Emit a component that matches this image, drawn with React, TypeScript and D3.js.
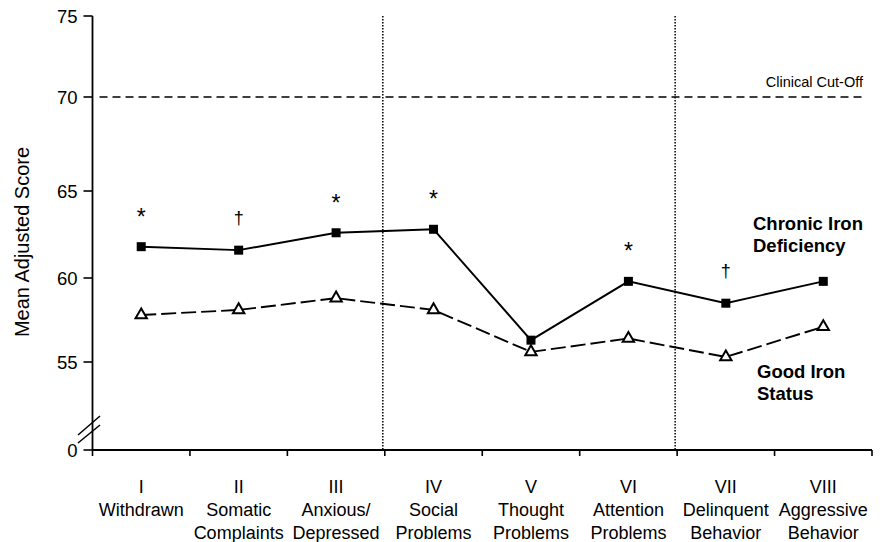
import React from "react";
import * as d3 from "d3";

const romans = ["I", "II", "III", "IV", "V", "VI", "VII", "VIII"];
const labelLine1 = ["Withdrawn", "Somatic", "Anxious/", "Social", "Thought", "Attention", "Delinquent", "Aggressive"];
const labelLine2 = ["", "Complaints", "Depressed", "Problems", "Problems", "Problems", "Behavior", "Behavior"];
const chronicIron = [61.8, 61.6, 62.6, 62.8, 56.3, 59.8, 58.5, 59.8];
const goodIron = [57.8, 58.1, 58.8, 58.1, 55.6, 56.4, 55.3, 57.1];
const significance = ["*", "\u2020", "*", "*", "", "*", "\u2020", ""];
const yTicks = [55, 60, 65, 70, 75];
const clinicalCutOff = 70;
const dividerBefore = ["IV", "VII"];

const W = 883;
const H = 542;
const FONT = "'Liberation Sans', Arial, Helvetica, sans-serif";

export default function App() {
  const axisX = 92.5;
  const axisBottom = 450;
  const x = d3.scaleBand<string>().domain(romans).range([axisX, 872]);
  const cx = (i: number) => (x(romans[i]) as number) + x.bandwidth() / 2;
  // scanned axis spacing is slightly uneven; polylinear scale follows the printed ticks
  const y = d3.scaleLinear().domain([55, 60, 65, 70, 75]).range([362, 278, 191, 97, 16]);

  const line = d3
    .line<number>()
    .x((_, i) => cx(i))
    .y((d) => y(d));

  const tickEdges = [...romans.map((r) => x(r) as number), 872];

  const tri = d3.symbol().type(d3.symbolTriangle).size(56)() as string;

  return (
    <div style={{ position: "absolute", left: 0, top: 0 }}>
      <svg width={W} height={H} style={{ display: "block", background: "#fff" }} fontFamily={FONT}>
        {/* y axis */}
        <line x1={axisX} x2={axisX} y1={y(75)} y2={axisBottom} stroke="#000" strokeWidth={1.8} />
        {yTicks.map((t) => (
          <g key={t}>
            <line x1={axisX - 9} x2={axisX} y1={y(t)} y2={y(t)} stroke="#000" strokeWidth={1.6} />
            <text x={axisX - 15} y={y(t)} dy="0.36em" textAnchor="end" fontSize={18.5}>
              {t}
            </text>
          </g>
        ))}
        <line x1={axisX - 9} x2={axisX} y1={axisBottom} y2={axisBottom} stroke="#000" strokeWidth={1.6} />
        <text x={axisX - 15} y={axisBottom} dy="0.36em" textAnchor="end" fontSize={18.5}>
          0
        </text>
        {/* axis break */}
        <line x1={78} x2={100} y1={443} y2={425} stroke="#000" strokeWidth={1.5} />
        <line x1={78} x2={100} y1={435} y2={416} stroke="#000" strokeWidth={1.5} />

        {/* y title */}
        <text transform={`translate(29, 242) rotate(-90)`} textAnchor="middle" fontSize={20}>
          Mean Adjusted Score
        </text>

        {/* x axis */}
        <line x1={axisX} x2={872} y1={axisBottom} y2={axisBottom} stroke="#000" strokeWidth={1.8} />
        {tickEdges.map((tx, i) => (
          <line key={i} x1={tx} x2={tx} y1={axisBottom} y2={axisBottom + 6} stroke="#000" strokeWidth={1.6} />
        ))}
        {romans.map((r, i) => (
          <g key={r} textAnchor="middle" fontSize={18}>
            <text x={cx(i)} y={493}>{r}</text>
            <text x={cx(i)} y={516}>{labelLine1[i]}</text>
            <text x={cx(i)} y={539}>{labelLine2[i]}</text>
          </g>
        ))}

        {/* dividers */}
        {dividerBefore.map((r) => (
          <line
            key={r}
            x1={(x(r) as number) - 2}
            x2={(x(r) as number) - 2}
            y1={y(75)}
            y2={axisBottom}
            stroke="#000"
            strokeWidth={1.5}
            strokeDasharray="1.5 1.5"
          />
        ))}

        {/* clinical cut-off */}
        <line
          x1={axisX + 7}
          x2={862}
          y1={y(clinicalCutOff)}
          y2={y(clinicalCutOff)}
          stroke="#000"
          strokeWidth={1.7}
          strokeDasharray="8 5"
        />
        <text x={863} y={87} textAnchor="end" fontSize={14.5}>
          Clinical Cut-Off
        </text>

        {/* good iron status */}
        <path d={line(goodIron) as string} fill="none" stroke="#000" strokeWidth={1.9} strokeDasharray="15 5" />
        {goodIron.map((v, i) => (
          <path key={i} d={tri} transform={`translate(${cx(i)},${y(v)})`} fill="#fff" stroke="#000" strokeWidth={2} />
        ))}

        {/* chronic iron deficiency */}
        <path d={line(chronicIron) as string} fill="none" stroke="#000" strokeWidth={1.9} />
        {chronicIron.map((v, i) => (
          <rect key={i} x={cx(i) - 4.5} y={y(v) - 4.5} width={9} height={9} fill="#000" />
        ))}
        {significance.map((s, i) =>
          s ? (
            <text
              key={i}
              x={cx(i)}
              y={y(chronicIron[i]) - (s === "*" ? 22 : 26)}
              textAnchor="middle"
              fontSize={s === "*" ? 23 : 18}
            >
              {s}
            </text>
          ) : null
        )}

        {/* series labels */}
        <g fontSize={18.5} fontWeight="bold">
          <text x={753} y={230}>Chronic Iron</text>
          <text x={753} y={252}>Deficiency</text>
          <text x={757} y={378}>Good Iron</text>
          <text x={757} y={400}>Status</text>
        </g>
      </svg>
    </div>
  );
}
